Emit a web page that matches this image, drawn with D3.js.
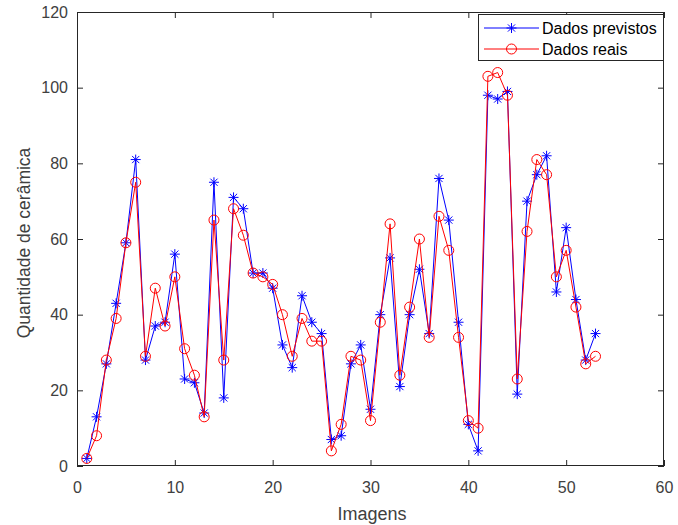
<!DOCTYPE html>
<html>
<head>
<meta charset="utf-8">
<script src="https://cdn.jsdelivr.net/npm/d3@7"></script>
<style>
  html, body { margin: 0; padding: 0; background: #fff; }
  svg { display: block; font-family: "Liberation Sans", Arial, sans-serif; }
</style>
</head>
<body>
<svg id="chart" width="678" height="525"></svg>
<script>
// Image index (1..53)
const imagens = d3.range(1, 54);

// Predicted ceramic counts per image
const dadosPrevistos = [
  2, 13, 27, 43, 59, 81, 28, 37, 38, 56,
  23, 22, 14, 75, 18, 71, 68, 51, 51, 47,
  32, 26, 45, 38, 35, 7, 8, 27, 32, 15,
  40, 55, 21, 40, 52, 35, 76, 65, 38, 11,
  4, 98, 97, 99, 19, 70, 77, 82, 46, 63,
  44, 28, 35
];

// Actual ceramic counts per image
const dadosReais = [
  2, 8, 28, 39, 59, 75, 29, 47, 37, 50,
  31, 24, 13, 65, 28, 68, 61, 51, 50, 48,
  40, 29, 39, 33, 33, 4, 11, 29, 28, 12,
  38, 64, 24, 42, 60, 34, 66, 57, 34, 12,
  10, 103, 104, 98, 23, 62, 81, 77, 50, 57,
  42, 27, 29
];

const xTicks = [0, 10, 20, 30, 40, 50, 60];
const yTicks = [0, 20, 40, 60, 80, 100, 120];

const svg = d3.select("#chart");
const mLeft = 77, mRight = 664, mTop = 12, mBottom = 466;
const axisColor = "#262626";
const textColor = "#404040";

const x = d3.scaleLinear().domain([0, 60]).range([mLeft, mRight]);
const y = d3.scaleLinear().domain([0, 120]).range([mBottom, mTop]);

// Axes with inward ticks, mirrored on the opposite sides
const tickLen = 6;
svg.append("g").attr("transform", `translate(0,${mBottom})`)
  .call(d3.axisBottom(x).tickValues(xTicks).tickSizeInner(-tickLen).tickSizeOuter(0).tickPadding(16))
  .call(g => g.select(".domain").remove());
svg.append("g").attr("transform", `translate(0,${mTop})`)
  .call(d3.axisTop(x).tickValues(xTicks).tickSizeInner(-tickLen).tickSizeOuter(0).tickFormat(""))
  .call(g => g.select(".domain").remove());
svg.append("g").attr("transform", `translate(${mLeft},0)`)
  .call(d3.axisLeft(y).tickValues(yTicks).tickSizeInner(-tickLen).tickSizeOuter(0).tickPadding(9))
  .call(g => g.select(".domain").remove());
svg.append("g").attr("transform", `translate(${mRight},0)`)
  .call(d3.axisRight(y).tickValues(yTicks).tickSizeInner(-tickLen).tickSizeOuter(0).tickFormat(""))
  .call(g => g.select(".domain").remove());

svg.selectAll(".tick line").attr("stroke", axisColor).attr("stroke-width", 1);
svg.selectAll(".tick text")
  .attr("fill", textColor)
  .style("font-size", "16px")
  .style("font-family", "'Liberation Sans', Arial, sans-serif");

// Plot box
svg.append("rect")
  .attr("x", mLeft + 0.5).attr("y", mTop + 0.5)
  .attr("width", mRight - mLeft - 1).attr("height", mBottom - mTop - 1)
  .attr("fill", "none").attr("stroke", axisColor).attr("stroke-width", 1);

// Axis labels
svg.append("text")
  .attr("x", 372).attr("y", 520)
  .attr("text-anchor", "middle")
  .attr("fill", textColor)
  .style("font-size", "18px")
  .text("Imagens");
svg.append("text")
  .attr("transform", `translate(30,${(mTop + mBottom) / 2 + 4}) rotate(-90)`)
  .attr("text-anchor", "middle")
  .attr("fill", textColor)
  .style("font-size", "17.5px")
  .text("Quantidade de cerâmica");

const line = d3.line().x((d, i) => x(imagens[i])).y(d => y(d));

function starPath(cx, cy, r) {
  const d = r * 0.72;
  return `M${cx - r},${cy}L${cx + r},${cy}M${cx},${cy - r}L${cx},${cy + r}` +
         `M${cx - d},${cy - d}L${cx + d},${cy + d}M${cx - d},${cy + d}L${cx + d},${cy - d}`;
}

// Predicted series: blue line with star markers
svg.append("path").datum(dadosPrevistos)
  .attr("d", line).attr("fill", "none").attr("stroke", "#0000ff").attr("stroke-width", 1);
svg.append("g").selectAll("path").data(dadosPrevistos).join("path")
  .attr("d", (d, i) => starPath(x(imagens[i]), y(d), 5))
  .attr("stroke", "#0000ff").attr("stroke-width", 1).attr("fill", "none");

// Actual series: red line with circle markers
svg.append("path").datum(dadosReais)
  .attr("d", line).attr("fill", "none").attr("stroke", "#ff0000").attr("stroke-width", 1);
svg.append("g").selectAll("circle").data(dadosReais).join("circle")
  .attr("cx", (d, i) => x(imagens[i])).attr("cy", d => y(d)).attr("r", 5)
  .attr("stroke", "#ff0000").attr("stroke-width", 1).attr("fill", "none");

// Legend
const lg = svg.append("g");
lg.append("rect").attr("x", 478.5).attr("y", 14.5).attr("width", 185).attr("height", 46)
  .attr("fill", "#fff").attr("stroke", axisColor).attr("stroke-width", 1);
const items = [
  { label: "Dados previstos", color: "#0000ff", marker: "star", yy: 28 },
  { label: "Dados reais", color: "#ff0000", marker: "circle", yy: 49 }
];
items.forEach(it => {
  lg.append("line").attr("x1", 484).attr("x2", 539).attr("y1", it.yy).attr("y2", it.yy)
    .attr("stroke", it.color).attr("stroke-width", 1);
  if (it.marker === "star") {
    lg.append("path").attr("d", starPath(511.5, it.yy, 5)).attr("stroke", it.color).attr("fill", "none");
  } else {
    lg.append("circle").attr("cx", 511.5).attr("cy", it.yy).attr("r", 5)
      .attr("stroke", it.color).attr("fill", "none");
  }
  lg.append("text").attr("x", 542).attr("y", it.yy + 6).attr("fill", "#000")
    .style("font-size", "16px").text(it.label);
});
</script>
</body>
</html>
